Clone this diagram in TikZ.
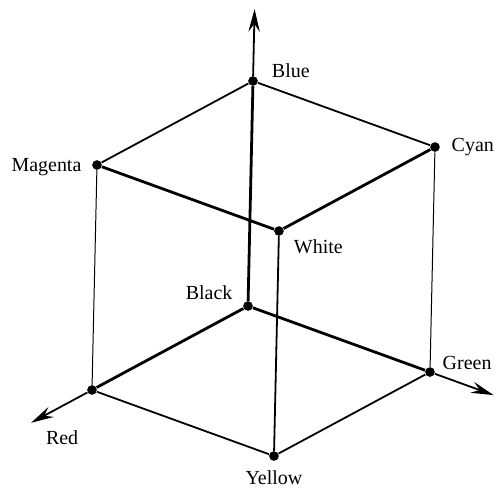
\documentclass[tikz,border=0pt]{standalone}
\usepackage{fontspec}
\setmainfont{Liberation Serif}
\usepackage{tikz}
\usetikzlibrary{arrows.meta}
\usetikzlibrary{positioning}
\tikzset{
  vertex/.style={circle, fill=black, inner sep=0pt, minimum size=0.17cm},
  lbl/.style={inner sep=1pt, font=\fontsize{10}{12}\selectfont},
  boldedge/.style={line width=1.4pt},
  midedge/.style={line width=0.9pt},
  thinedge/.style={line width=0.5pt},
  axisline/.style={line width=0.9pt, -{Stealth[length=0.4cm, width=0.2cm, inset=0.14cm]}}
}

\begin{document}
\begin{tikzpicture}[x={(-2.746cm,-1.478cm)}, y={(3.203cm,-1.162cm)}, z={(0.088cm,3.96cm)}]
\useasboundingbox (-4.365cm,-3.291cm) rectangle (4.365cm,5.386cm);
% corners of the cube
\node[vertex] (blk) at (0,0,0) {};
\node[vertex] (rd)  at (1,0,0) {};
\node[vertex] (grn) at (0,1,0) {};
\node[vertex] (blu) at (0,0,1) {};
\node[vertex] (yel) at (1,1,0) {};
\node[vertex] (mag) at (1,0,1) {};
\node[vertex] (cyn) at (0,1,1) {};
\node[vertex] (wht) at (1,1,1) {};
\coordinate (rtip) at (1.39,0,0);
\coordinate (gtip) at (0,1.35,0);
\coordinate (btip) at (0,0,1.32);
% axes
\draw[axisline] (blu) -- (btip);
\draw[axisline] (rd) -- (rtip);
\draw[axisline] (grn) -- (gtip);
% edges
\draw[boldedge] (blk) -- (blu);
\draw[boldedge] (blk) -- (rd);
\draw[boldedge] (blk) -- (grn);
\draw[boldedge] (mag) -- (wht);
\draw[boldedge] (wht) -- (cyn);
\draw[midedge] (wht) -- (yel);
\draw[midedge] (blu) -- (mag);
\draw[midedge] (blu) -- (cyn);
\draw[midedge] (rd) -- (yel);
\draw[midedge] (yel) -- (grn);
\draw[thinedge] (mag) -- (rd);
\draw[thinedge] (cyn) -- (grn);
% labels
\node[lbl, right=0.2cm of blu, yshift=0.19cm] (tblu) {Blue};
\node[lbl, right=0.16cm of cyn] (tcyn) {Cyan};
\node[lbl, left=0.14cm of mag, yshift=-0.04cm] (tmag) {Magenta};
\node[lbl, right=0.13cm of wht, yshift=-0.28cm] (twht) {White};
\node[lbl, left=0.14cm of blk, yshift=0.23cm] (tblk) {Black};
\node[lbl, right=0.09cm of grn, yshift=0.16cm] (tgrn) {Green};
\node[lbl, below=0.12cm of yel] (tyel) {Yellow};
\node[lbl, below right=0.1cm and 0.22cm of rtip] (trd) {Red};
\end{tikzpicture}
\end{document}
